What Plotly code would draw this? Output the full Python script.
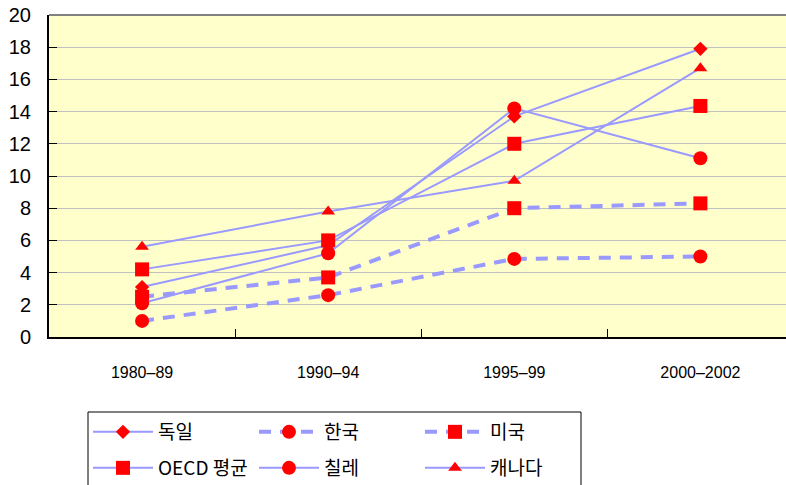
import plotly.graph_objects as go

categories = ["1980–89", "1990–94", "1995–99", "2000–2002"]
germany = [3.1, 5.7, 13.7, 17.9]
korea = [1.0, 2.6, 4.85, 5.0]
usa = [2.5, 3.7, 8.0, 8.3]
oecd = [4.2, 6.0, 12.0, 14.35]
chile = [2.1, 5.2, 14.2, 11.1]
canada = [5.6, 7.8, 9.7, 16.7]
y_ticks = list(range(0, 21, 2))

LINE = "#9999FF"
MARK = "#FF0000"

series = [
    ("독일", germany, "solid", "diamond", 11, "legend"),
    ("한국", korea, "dash", "circle", 14, "legend"),
    ("미국", usa, "dash", "square", 14, "legend"),
    ("OECD 평균", oecd, "solid", "square", 14, "legend2"),
    ("칠레", chile, "solid", "circle", 14, "legend2"),
    ("캐나다", canada, "solid", "triangle-up", 12, "legend2"),
]

fig = go.Figure()
for name, vals, dash, sym, size, lg in series:
    fig.add_trace(go.Scatter(
        x=categories, y=vals, name=name, mode="lines+markers",
        line=dict(color=LINE, width=4 if dash == "dash" else 2,
                  dash="12px,9px" if dash == "dash" else "solid"),
        marker=dict(symbol=sym, size=size, color=MARK, line=dict(width=0)),
        legend=lg,
    ))

W, H = 786, 485
ml, mr, mt = 49, 0, 15
mb = H - 337
plot_h = H - mt - mb

def py(screen_y):
    return (H - mb - screen_y) / plot_h

def px(screen_x):
    return (screen_x - ml) / (W - ml - mr)

legend_common = dict(
    orientation="h", xanchor="left", yanchor="middle",
    bgcolor="rgba(0,0,0,0)", borderwidth=0,
    font=dict(family="Noto Sans CJK KR", size=19, color="#000000"),
    itemwidth=60, entrywidth=91, entrywidthmode="pixels",
    itemclick=False, itemdoubleclick=False, tracegroupgap=0,
)

fig.update_layout(
    width=W, height=H,
    margin=dict(l=ml, r=mr, t=mt, b=mb, autoexpand=False),
    paper_bgcolor="#FFFFFF",
    plot_bgcolor="#FFFFCC",
    showlegend=True,
    hovermode=False,
    legend=dict(x=px(88), y=py(432), **legend_common),
    legend2=dict(x=px(88), y=py(468), **legend_common),
    xaxis=dict(
        type="category", range=[-0.5, 3.46],
        showgrid=False, showline=True, linecolor="#000000", linewidth=2,
        ticks="inside", tickson="boundaries", ticklen=8, tickcolor="#000000",
        tickfont=dict(family="Liberation Sans", size=16, color="#000000"),
        ticklabelstandoff=20,
    ),
    yaxis=dict(
        range=[0, 20], tickvals=y_ticks,
        showgrid=True, gridcolor="#C0C0C0", gridwidth=1,
        showline=True, linecolor="#000000", linewidth=2,
        ticks="inside", ticklen=8, tickcolor="#000000",
        tickfont=dict(family="Liberation Sans", size=20, color="#000000"),
        ticklabelstandoff=12, zeroline=False, ticklabeloverflow="allow",
    ),
    shapes=[
        dict(type="line", xref="paper", yref="paper", x0=0, x1=1, y0=1, y1=1,
             line=dict(color="#808080", width=2)),
        dict(type="rect", xref="paper", yref="paper",
             x0=px(88), x1=px(581), y0=py(500), y1=py(412),
             line=dict(color="#000000", width=1), fillcolor="rgba(0,0,0,0)"),
    ],
)

fig.write_html("out.html", config={"displayModeBar": False},
               post_script="document.body.style.margin='0';")
